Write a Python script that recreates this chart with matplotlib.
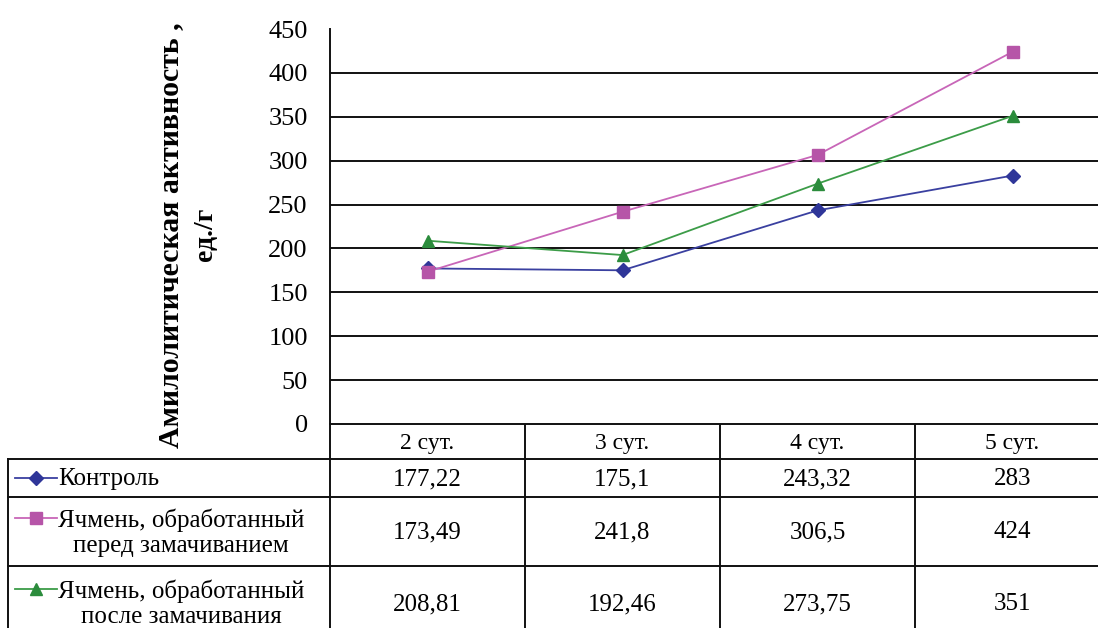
import matplotlib
matplotlib.use("Agg")
import matplotlib.pyplot as plt
from matplotlib.lines import Line2D

plt.rcParams['font.family'] = ['Liberation Serif', 'DejaVu Serif']

categories = ["2 сут.", "3 сут.", "4 сут.", "5 сут."]
series_names = ["Контроль",
                "Ячмень, обработанный\nперед замачиванием",
                "Ячмень, обработанный\nпосле замачивания"]
control = [177.22, 175.1, 243.32, 283]
before_soak = [173.49, 241.8, 306.5, 424]
after_soak = [208.81, 192.46, 273.75, 351]
value_labels = [["177,22", "175,1", "243,32", "283"],
                ["173,49", "241,8", "306,5", "424"],
                ["208,81", "192,46", "273,75", "351"]]
yticks = [0, 50, 100, 150, 200, 250, 300, 350, 400, 450]

colors = ['#2F3699', '#B655A8', '#2B8C3C']
line_colors = ['#3A40A0', '#C866B8', '#3C9C48']
markers = ['D', 's', '^']
msizes = [7.5, 9, 9]

W, H = 1098, 628
fig = plt.figure(figsize=(W / 100, H / 100), dpi=100)

# axes in pixel layout
x0, x1 = 330, 1110
ytop, ybot = 29, 424
ax = fig.add_axes([x0 / W, (H - ybot) / H, (x1 - x0) / W, (ybot - ytop) / H])

xs = list(range(len(categories)))
for vals, c, lc, m, ms in zip([control, before_soak, after_soak], colors, line_colors, markers, msizes):
    ax.plot(xs, vals, color=lc, lw=1.3, marker=m, markersize=ms,
            markerfacecolor=c, markeredgecolor=c, zorder=3)

ax.set_xlim(-0.5, len(categories) - 0.5)
ax.set_ylim(0, 450)
ax.set_yticks(yticks)
ax.set_yticklabels([str(v) for v in yticks], fontsize=19)
ax.tick_params(axis='y', length=0, pad=16)
ax.set_xticks([])
for y in yticks[:-1]:
    ax.axhline(y, color='#111111', lw=1.4, zorder=1)
for s in ['top', 'right', 'bottom']:
    ax.spines[s].set_visible(False)
ax.spines['left'].set_linewidth(1.4)
ax.spines['left'].set_color('#111111')

# y-axis title
fig.text(171 / W, 1 - 235 / H, "Амилолитическая активность ,", rotation=90,
         ha='center', va='center', fontsize=21.5, fontweight='bold')
fig.text(205 / W, 1 - 234 / H, "ед./г", rotation=90,
         ha='center', va='center', fontsize=20, fontweight='bold')

# data table, drawn in pixel coordinates on an overlay axes
tab = fig.add_axes([0, 0, 1, 1], zorder=-1)
tab.set_xlim(0, W)
tab.set_ylim(H, 0)
tab.axis('off')

# x positions of category columns from the main axes' data scale
to_px = lambda xd: ax.transData.transform((xd, 0))[0]
centers = [to_px(i) for i in xs]
edges = [to_px(i - 0.5) for i in xs] + [to_px(len(xs) - 0.5)]

row_y = [424, 459, 497, 566, 640]
lk = dict(color='#111111', lw=1.4)
tab.plot([edges[0], W + 20], [row_y[0]] * 2, **lk)
for y in row_y[1:4]:
    tab.plot([8, W + 20], [y, y], **lk)
tab.plot([8, 8], [row_y[1], row_y[-1]], **lk)
for e in edges:
    tab.plot([e, e], [row_y[0], row_y[-1]], **lk)

for c, lab in zip(centers, categories):
    tab.text(c, (row_y[0] + row_y[1]) / 2 + 2, lab, ha='center', va='center', fontsize=17)

for r in range(3):
    yc = (row_y[r + 1] + row_y[r + 2]) / 2
    for c, lab in zip(centers, value_labels[r]):
        tab.text(c, yc + 1, lab, ha='center', va='center', fontsize=18)
    # legend key and label
    nlines = series_names[r].count('\n') + 1
    ykey = yc if nlines == 1 else yc - 14
    tab.add_line(Line2D([15, 57], [ykey, ykey], color=line_colors[r], lw=1.3))
    tab.add_line(Line2D([36], [ykey], color=colors[r], marker=markers[r], markersize=msizes[r] - 0.5,
                        markerfacecolor=colors[r], markeredgecolor=colors[r]))
    tab.text(58, yc + 1, series_names[r], ha='left', va='center', fontsize=18,
             multialignment='center', linespacing=1.2)

fig.savefig("out.png", dpi=100)
